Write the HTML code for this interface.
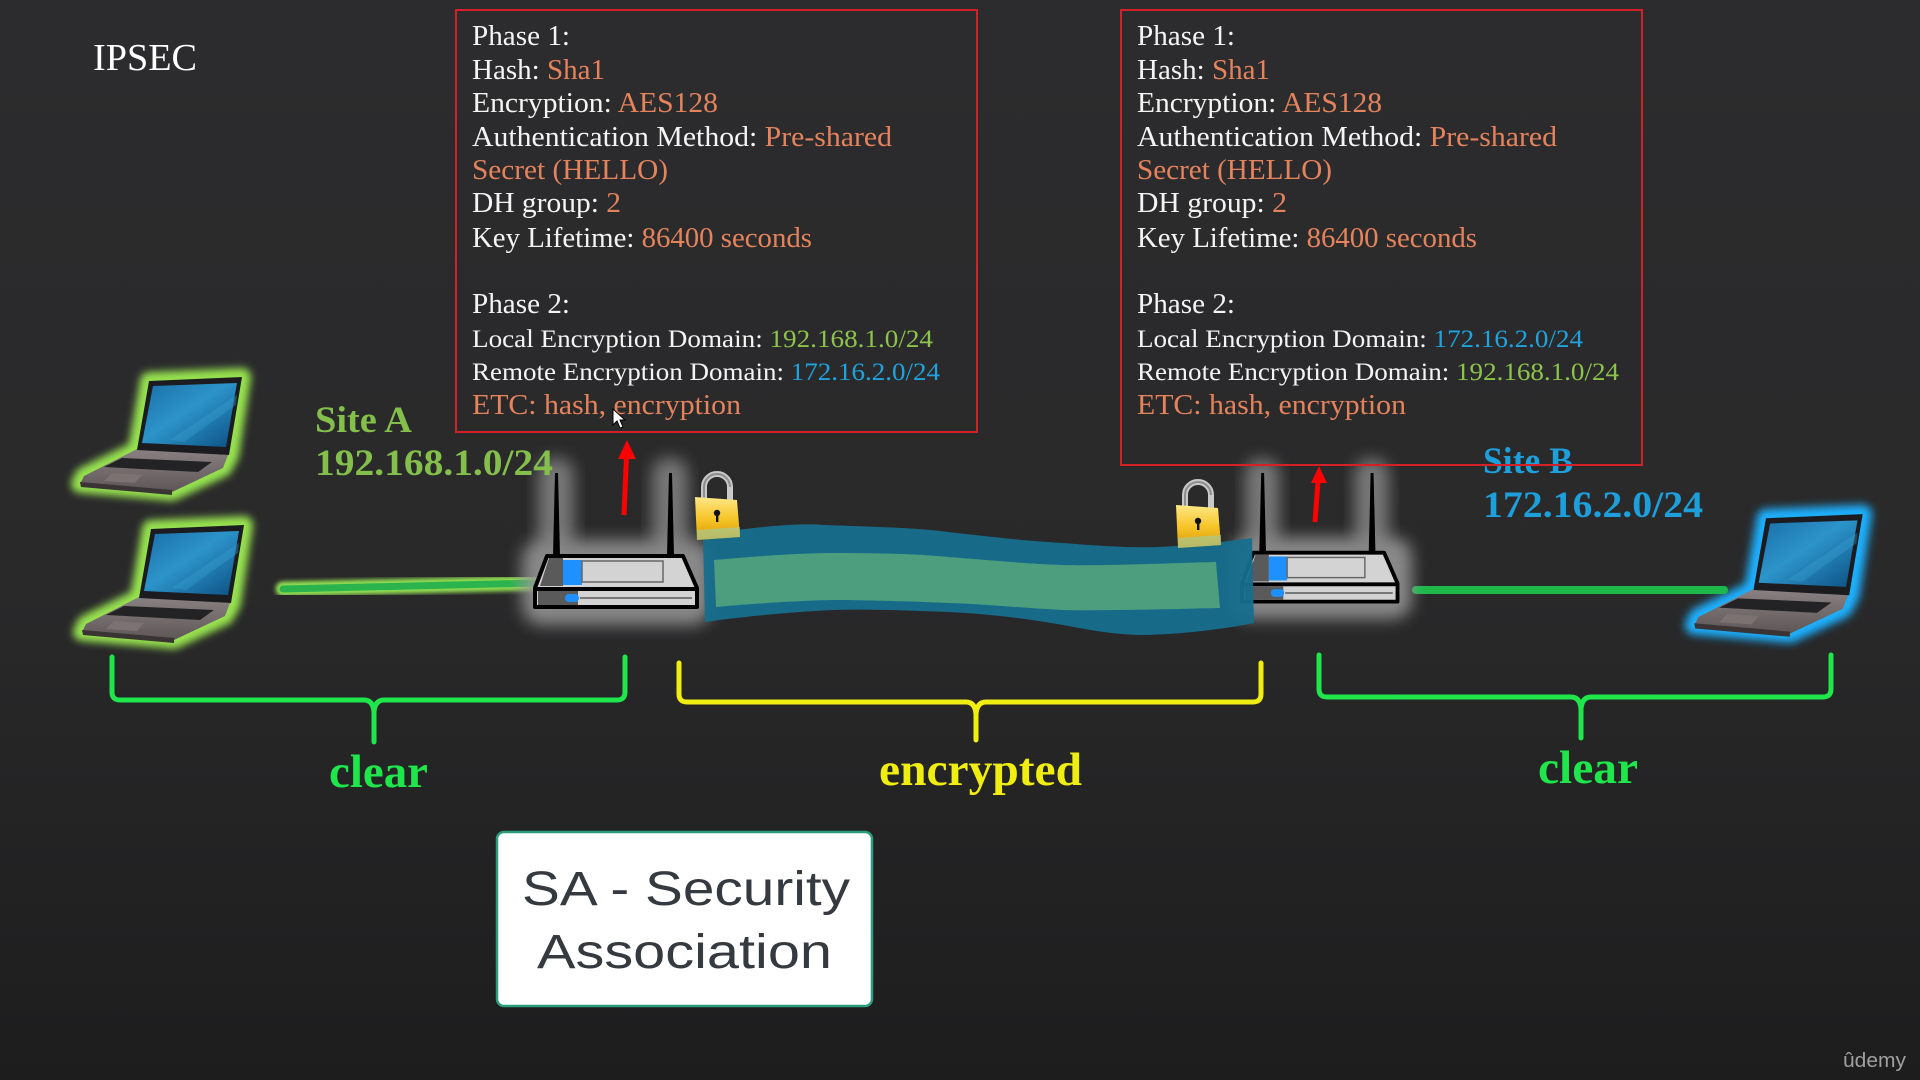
<!DOCTYPE html>
<html>
<head>
<meta charset="utf-8">
<style>
html,body{margin:0;padding:0;background:#2a2a2b;}
svg{display:block;}
</style>
</head>
<body>
<svg width="1920" height="1080" viewBox="0 0 1920 1080" xmlns="http://www.w3.org/2000/svg">
<defs>
  <linearGradient id="bg" x1="0" y1="0" x2="0" y2="1">
    <stop offset="0" stop-color="#2c2c2e"/>
    <stop offset="0.55" stop-color="#29292a"/>
    <stop offset="1" stop-color="#1d1d1e"/>
  </linearGradient>
  <linearGradient id="scr" x1="0" y1="0" x2="1" y2="1">
    <stop offset="0" stop-color="#1a6da6"/>
    <stop offset="0.45" stop-color="#2c94c9"/>
    <stop offset="1" stop-color="#0c4f82"/>
  </linearGradient>
  <linearGradient id="baseg" x1="0" y1="0" x2="0" y2="1">
    <stop offset="0" stop-color="#8a8282"/>
    <stop offset="1" stop-color="#5e5656"/>
  </linearGradient>
  <linearGradient id="gold" x1="0" y1="0" x2="0" y2="1">
    <stop offset="0" stop-color="#ffe887"/>
    <stop offset="0.5" stop-color="#f7c52a"/>
    <stop offset="1" stop-color="#d99a00"/>
  </linearGradient>
  <filter id="blur4" x="-30%" y="-30%" width="160%" height="160%"><feGaussianBlur stdDeviation="4"/></filter>
  <filter id="blur3" x="-30%" y="-30%" width="160%" height="160%"><feGaussianBlur stdDeviation="3"/></filter>
  <filter id="blur2" x="-30%" y="-100%" width="160%" height="300%"><feGaussianBlur stdDeviation="2"/></filter>
  <filter id="blur8" x="-30%" y="-30%" width="160%" height="160%"><feGaussianBlur stdDeviation="8"/></filter>

  <g id="laptop">
    <polygon points="137,449 228,455 223,468 172,492 80,484 84,476" fill="url(#baseg)"/>
    <polygon points="80,482 172,490 172,495 81,487" fill="#3a3434"/>
    <polygon points="122,458 212,462 198,472 104,467" fill="#232325"/>
    <polygon points="112,473 142,475 135,483 104,481" fill="#7c7272"/>
    <polygon points="149,381 242,377 229,455 137,450" fill="#1b1b20"/>
    <polygon points="153,386 237,383 226,447 142,443" fill="url(#scr)"/>
    <polygon points="170,440 237,395 236,405 184,442" fill="#3aa2d4" opacity="0.35"/>
  </g>
  <polygon id="lapglow" points="149,381 242,377 230,455 223,468 172,492 80,484 84,476 137,450"/>

  <g id="router">
    <rect x="522" y="540" width="190" height="85" rx="20" fill="#9a9a9a" opacity="0.85" filter="url(#blur8)"/>
    <rect x="538" y="458" width="36" height="100" rx="16" fill="#8a8a8a" opacity="0.8" filter="url(#blur8)"/>
    <rect x="652" y="458" width="36" height="100" rx="16" fill="#8a8a8a" opacity="0.8" filter="url(#blur8)"/>
    <polygon points="553,556 560,556 558,473 555,473" fill="#000"/>
    <polygon points="667,556 674,556 672,473 669,473" fill="#000"/>
    <polygon points="547,556 683,556 697,588 697,607 535,607 535,588" fill="#d3d3d3" stroke="#000" stroke-width="4" stroke-linejoin="round"/>
    <polygon points="549,558 563,558 563,586 540,586" fill="#5a5a5a"/>
    <rect x="563" y="560" width="19" height="25" fill="#1e90ff"/>
    <rect x="582" y="561" width="81" height="21" fill="none" stroke="#666" stroke-width="1.5"/>
    <line x1="535" y1="589" x2="697" y2="589" stroke="#000" stroke-width="4"/>
    <rect x="538" y="591" width="40" height="14" fill="#5a5a5a"/>
    <rect x="565" y="594" width="14" height="8" rx="4" fill="#1e90ff"/>
    <line x1="580" y1="598" x2="692" y2="598" stroke="#777" stroke-width="2"/>
  </g>

  <g id="lock">
    <path d="M704,500 L704,487 A13,13 0 0 1 730,487 L730,500" fill="none" stroke="#c9c9c9" stroke-width="6"/>
    <path d="M704,500 L704,487 A13,13 0 0 1 730,487" fill="none" stroke="#8d8d8d" stroke-width="2"/>
    <polygon points="695,497 737,500 740,537 697,540" fill="url(#gold)"/>
    <polygon points="697,530 740,527 740,537 697,540" fill="#9fcfa8" opacity="0.6"/>
    <circle cx="717" cy="513" r="3.2" fill="#111"/>
    <rect x="716" y="513" width="2.4" height="9" fill="#111"/>
  </g>
</defs>

<rect x="0" y="0" width="1920" height="1080" fill="url(#bg)"/>

<!-- Title -->
<text x="93" y="70" font-family="Liberation Serif, serif" font-size="38" fill="#ffffff" textLength="104" lengthAdjust="spacingAndGlyphs">IPSEC</text>

<!-- Laptops left -->
<use href="#lapglow" fill="#96e24f" stroke="#96e24f" stroke-width="18" stroke-linejoin="round" filter="url(#blur4)"/>
<use href="#laptop"/>
<g transform="translate(2,148)">
  <use href="#lapglow" fill="#96e24f" stroke="#96e24f" stroke-width="18" stroke-linejoin="round" filter="url(#blur4)"/>
  <use href="#laptop"/>
</g>
<!-- Laptop right -->
<g transform="translate(1611,122) scale(1.04)">
  <use href="#lapglow" fill="#1bb0ff" stroke="#1bb0ff" stroke-width="18" stroke-linejoin="round" filter="url(#blur4)"/>
  <use href="#laptop"/>
</g>

<!-- Links -->
<line x1="283" y1="589" x2="538" y2="583" stroke="#93e052" stroke-width="15" stroke-linecap="round" filter="url(#blur2)"/>
<line x1="283" y1="589" x2="538" y2="583" stroke="#2bb34d" stroke-width="7" stroke-linecap="round"/>
<line x1="1416" y1="590" x2="1724" y2="590" stroke="#1aa8e8" stroke-width="18" stroke-linecap="round" filter="url(#blur3)"/>
<line x1="1416" y1="590" x2="1724" y2="590" stroke="#1db84a" stroke-width="8" stroke-linecap="round"/>

<!-- Routers -->
<use href="#router"/>
<g transform="translate(728.4,18.9) scale(0.96)"><use href="#router"/></g>

<!-- Tunnel -->
<path d="M703,535 C760,526 800,523 825,525 C880,527 920,528 948,532 C1000,538 1030,541 1063,543 C1100,546 1130,548 1158,547 C1200,545 1230,541 1252,538 L1254,623 C1230,628 1180,635 1139,635 C1110,634 1090,630 1063,625 C1030,619 990,614 948,612 C900,610 860,609 833,610 C790,612 740,617 705,622 Z" fill="#176e8e" opacity="0.95"/>
<path d="M714,560 C760,556 800,553 833,553 C880,553 920,554 948,557 C1000,561 1030,564 1063,565 C1110,566 1170,563 1216,562 L1220,608 C1170,609 1110,611 1063,610 C1020,608 985,604 948,603 C900,601 860,600 833,600 C790,601 750,604 716,607 Z" fill="#4c9e7e"/>

<!-- Locks -->
<use href="#lock"/>
<g transform="translate(481,8)"><use href="#lock"/></g>

<!-- Red arrows -->
<line x1="624" y1="515" x2="626.5" y2="456" stroke="#ff0000" stroke-width="5"/>
<polygon points="627,440 618,459 636,459" fill="#ff0000"/>
<line x1="1315" y1="522" x2="1318" y2="481" stroke="#ff0000" stroke-width="5"/>
<polygon points="1319,466 1311,483 1327,483" fill="#ff0000"/>

<!-- Site labels -->
<g font-family="Liberation Serif, serif" font-weight="bold" font-size="37">
  <text x="315" y="432" fill="#84bf4c" textLength="97" lengthAdjust="spacingAndGlyphs">Site A</text>
  <text x="315" y="475" fill="#84bf4c" textLength="238" lengthAdjust="spacingAndGlyphs">192.168.1.0/24</text>
  <text x="1483" y="473" fill="#1d9fdc" textLength="90" lengthAdjust="spacingAndGlyphs">Site B</text>
  <text x="1483" y="517" fill="#1d9fdc" textLength="220" lengthAdjust="spacingAndGlyphs">172.16.2.0/24</text>
</g>

<!-- Info box 1 -->
<rect x="456" y="10" width="521" height="422" fill="none" stroke="#d42027" stroke-width="2"/>
<g font-family="Liberation Serif, serif" font-size="29" fill="#f4f4f4">
  <text x="472" y="45" textLength="98" lengthAdjust="spacingAndGlyphs">Phase 1:</text>
  <text x="472" y="79" textLength="133" lengthAdjust="spacingAndGlyphs">Hash: <tspan fill="#e4835c">Sha1</tspan></text>
  <text x="472" y="112" textLength="246" lengthAdjust="spacingAndGlyphs">Encryption: <tspan fill="#e4835c">AES128</tspan></text>
  <text x="472" y="146" textLength="420" lengthAdjust="spacingAndGlyphs">Authentication Method: <tspan fill="#e4835c">Pre-shared</tspan></text>
  <text x="472" y="179" textLength="196" lengthAdjust="spacingAndGlyphs" fill="#e4835c">Secret (HELLO)</text>
  <text x="472" y="212" textLength="149" lengthAdjust="spacingAndGlyphs">DH group: <tspan fill="#e4835c">2</tspan></text>
  <text x="472" y="247" textLength="340" lengthAdjust="spacingAndGlyphs">Key Lifetime: <tspan fill="#e4835c">86400 seconds</tspan></text>
  <text x="472" y="313" textLength="98" lengthAdjust="spacingAndGlyphs">Phase 2:</text>
  <text x="472" y="347" font-size="25" textLength="461" lengthAdjust="spacingAndGlyphs">Local Encryption Domain: <tspan fill="#8cc34a">192.168.1.0/24</tspan></text>
  <text x="472" y="380" font-size="25" textLength="468" lengthAdjust="spacingAndGlyphs">Remote Encryption Domain: <tspan fill="#1fa3dd">172.16.2.0/24</tspan></text>
  <text x="472" y="414" textLength="269" lengthAdjust="spacingAndGlyphs" fill="#e4835c">ETC: hash, encryption</text>
</g>
<!-- cursor -->
<polygon points="613,409 613,425 617,421 620,428 623,427 620,420 625,420" fill="#ffffff" stroke="#000" stroke-width="1"/>

<!-- Info box 2 -->
<rect x="1121" y="10" width="521" height="455" fill="none" stroke="#d42027" stroke-width="2"/>
<g font-family="Liberation Serif, serif" font-size="29" fill="#f4f4f4">
  <text x="1137" y="45" textLength="98" lengthAdjust="spacingAndGlyphs">Phase 1:</text>
  <text x="1137" y="79" textLength="133" lengthAdjust="spacingAndGlyphs">Hash: <tspan fill="#e4835c">Sha1</tspan></text>
  <text x="1137" y="112" textLength="245" lengthAdjust="spacingAndGlyphs">Encryption: <tspan fill="#e4835c">AES128</tspan></text>
  <text x="1137" y="146" textLength="420" lengthAdjust="spacingAndGlyphs">Authentication Method: <tspan fill="#e4835c">Pre-shared</tspan></text>
  <text x="1137" y="179" textLength="195" lengthAdjust="spacingAndGlyphs" fill="#e4835c">Secret (HELLO)</text>
  <text x="1137" y="212" textLength="150" lengthAdjust="spacingAndGlyphs">DH group: <tspan fill="#e4835c">2</tspan></text>
  <text x="1137" y="247" textLength="340" lengthAdjust="spacingAndGlyphs">Key Lifetime: <tspan fill="#e4835c">86400 seconds</tspan></text>
  <text x="1137" y="313" textLength="98" lengthAdjust="spacingAndGlyphs">Phase 2:</text>
  <text x="1137" y="347" font-size="25" textLength="446" lengthAdjust="spacingAndGlyphs">Local Encryption Domain: <tspan fill="#1fa3dd">172.16.2.0/24</tspan></text>
  <text x="1137" y="380" font-size="25" textLength="482" lengthAdjust="spacingAndGlyphs">Remote Encryption Domain: <tspan fill="#8cc34a">192.168.1.0/24</tspan></text>
  <text x="1137" y="414" textLength="269" lengthAdjust="spacingAndGlyphs" fill="#e4835c">ETC: hash, encryption</text>
</g>

<!-- Braces -->
<g fill="none" stroke-width="5" stroke-linecap="round" stroke-linejoin="round">
  <path stroke="#1fe64a" d="M112,657 L112,692 Q112,700 120,700 L364,700 Q373,700 374,712 L374,742 M374,712 Q375,700 384,700 L617,700 Q625,700 625,692 L625,657"/>
  <path stroke="#f0ee10" d="M679,663 L679,694 Q679,702 687,702 L966,702 Q975,702 976,714 L976,740 M976,714 Q977,702 986,702 L1253,702 Q1261,702 1261,694 L1261,663"/>
  <path stroke="#1fe64a" d="M1319,655 L1319,689 Q1319,697 1327,697 L1571,697 Q1580,697 1581,709 L1581,738 M1581,709 Q1582,697 1591,697 L1823,697 Q1831,697 1831,689 L1831,655"/>
</g>
<g font-family="Liberation Serif, serif" font-weight="bold" font-size="47">
  <text x="329" y="787" fill="#1fe64a" textLength="99" lengthAdjust="spacingAndGlyphs">clear</text>
  <text x="879" y="785" fill="#f0ee10" textLength="203" lengthAdjust="spacingAndGlyphs">encrypted</text>
  <text x="1538" y="783" fill="#1fe64a" textLength="100" lengthAdjust="spacingAndGlyphs">clear</text>
</g>

<!-- SA box -->
<rect x="497" y="832" width="375" height="174" rx="7" fill="#ffffff" stroke="#2a9d7c" stroke-width="2.5"/>
<g font-family="Liberation Sans, sans-serif" font-size="48" fill="#343a40">
  <text x="522" y="905" textLength="328" lengthAdjust="spacingAndGlyphs">SA - Security</text>
  <text x="537" y="968" textLength="295" lengthAdjust="spacingAndGlyphs">Association</text>
</g>

<!-- udemy -->
<text x="1843" y="1067" font-family="Liberation Sans, sans-serif" font-size="20" fill="#a0a0a0" textLength="63" lengthAdjust="spacingAndGlyphs">ûdemy</text>
</svg>
</body>
</html>
